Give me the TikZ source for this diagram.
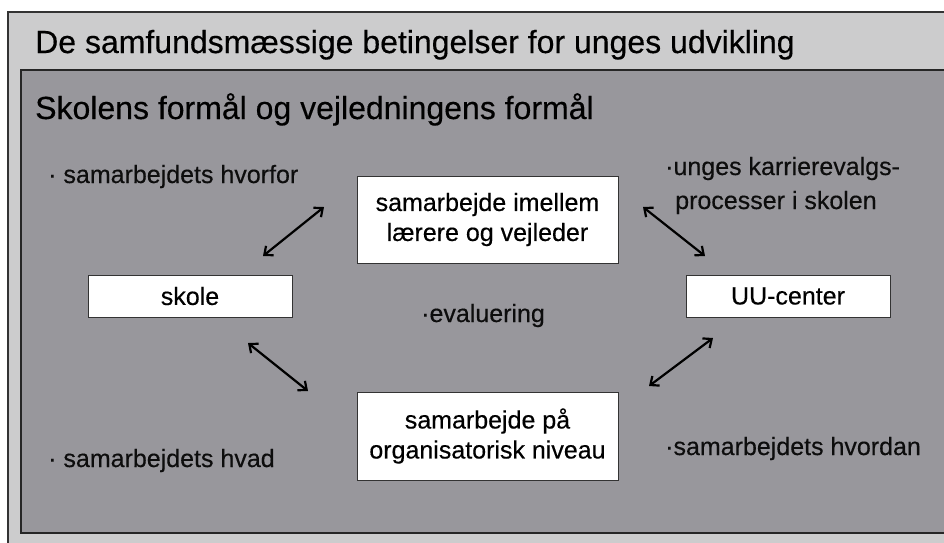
\documentclass[tikz,border=0pt]{standalone}
\usepackage{fontspec}
\setmainfont[FakeBold=0.35]{Liberation Sans}
\usetikzlibrary{arrows.meta}
\definecolor{outerbg}{HTML}{CCCCCD}
\definecolor{innerbg}{HTML}{98979C}
\definecolor{edge}{HTML}{333333}
\tikzset{
  box/.style={draw=edge, line width=1pt, fill=white, inner sep=0pt, align=center,
    font=\fontsize{25}{30}\selectfont, text=black},
  lbl/.style={anchor=base west, inner sep=0pt, font=\fontsize{25}{33}\selectfont, text=black!95},
  head/.style={anchor=base west, inner sep=0pt, font=\fontsize{32}{36}\selectfont, text=black},
  arr/.style={line width=2.2pt, black, {Straight Barb[length=7pt,width=12pt]}-{Straight Barb[length=7pt,width=12pt]}}
}
\begin{document}
\begin{tikzpicture}[x=1pt,y=-1pt]
\useasboundingbox (0,0) rectangle (944,542);
\clip (0,0) rectangle (944,542);
\fill[white] (0,0) rectangle (944,542);
\draw[fill=outerbg, draw=edge, line width=1.5pt] (8,12) rectangle (960,560);
\draw[fill=innerbg, draw=black!85, line width=2pt] (21,70) rectangle (970,533);

\node[head] (title) at (35,53) {De samfundsmæssige betingelser for unges udvikling};
\node[head] (sub) at (35,119) {Skolens formål og vejledningens formål};

\node[box, minimum width=261pt, minimum height=87pt] (A) at (487.5,219.5) {samarbejde imellem\\lærere og vejleder};
\node[box, minimum width=204pt, minimum height=42pt] (skole) at (190,296) {skole};
\node[box, minimum width=204pt, minimum height=42pt] (uu) at (788,296) {UU-center};
\node[box, minimum width=261pt, minimum height=88pt] (B) at (487.5,436) {samarbejde på\\organisatorisk niveau};

\node[lbl] (hvorfor) at (48,183) {· samarbejdets hvorfor};
\node[lbl] (unges) at (665,175) {·unges karrierevalgs-};
\node[lbl] (proc) at (675,209) {processer i skolen};
\node[lbl] (eval) at (421,322) {·evaluering};
\node[lbl] (hvad) at (48,467) {· samarbejdets hvad};
\node[lbl] (hvordan) at (665,455) {·samarbejdets hvordan};

\coordinate (a1s) at (263,256); \coordinate (a1e) at (324,207);
\coordinate (a2s) at (643,207); \coordinate (a2e) at (705,256);
\coordinate (a3s) at (248,343); \coordinate (a3e) at (308,391);
\coordinate (a4s) at (649,386); \coordinate (a4e) at (713,338);
\draw[arr] (a1s) -- (a1e);
\draw[arr] (a2s) -- (a2e);
\draw[arr] (a3s) -- (a3e);
\draw[arr] (a4s) -- (a4e);
\end{tikzpicture}
\end{document}
